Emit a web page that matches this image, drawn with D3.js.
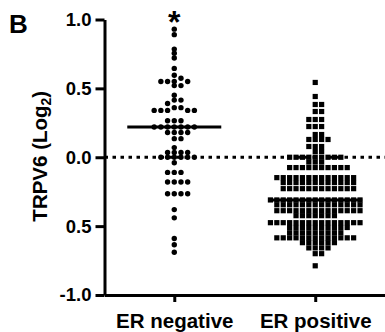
<!DOCTYPE html>
<html>
<head>
<meta charset="utf-8">
<script src="https://cdn.jsdelivr.net/npm/d3@7"></script>
<style>
  body { margin: 0; background: #fff; }
  text { font-family: "Liberation Sans", Arial, sans-serif; font-weight: bold; }
</style>
</head>
<body>
<div id="chart"></div>
<script>
var groups = ["ER negative", "ER positive"];

// TRPV6 (log2) per tumour
var erNegative = [0.93, 0.89, 0.785, 0.755, 0.72, 0.645, 0.595, 0.573,
  0.55, 0.55, 0.55, 0.55, 0.52, 0.52, 0.45, 0.415, 0.415, 0.39, 0.36, 0.36,
  0.34, 0.34, 0.34, 0.34, 0.34, 0.265, 0.265, 0.265,
  0.22, 0.22, 0.22, 0.22, 0.22, 0.22, 0.22,
  0.18, 0.18, 0.18, 0.18, 0.135, 0.135, 0.07, 0.035, 0.035, 0.035, 0.035,
  0, 0, 0, 0, 0, 0, -0.04, -0.11, -0.11, -0.11, -0.18, -0.18, -0.18, -0.18,
  -0.265, -0.265, -0.265, -0.265, -0.38, -0.44, -0.59, -0.635, -0.69];

var erPositive = [0.543, 0.441, 0.383, 0.383, 0.332, 0.332, 0.274, 0.274, 0.274,
  0.223, 0.223, 0.223, 0.165, 0.165, 0.129, 0.129, 0.129, 0.129,
  0.078, 0.078, 0.078, 0.041, 0.041,
  0, 0, 0, 0, 0, 0, 0, 0, 0,
  -0.035, -0.035, -0.035,
  -0.075, -0.075, -0.075, -0.075, -0.075, -0.075, -0.075, -0.075, -0.075, -0.075,
  -0.148, -0.148, -0.148, -0.148, -0.148, -0.148, -0.148, -0.148, -0.148, -0.148, -0.148, -0.148, -0.148,
  -0.184, -0.184, -0.184, -0.184, -0.184, -0.184, -0.184, -0.184, -0.184, -0.184, -0.184, -0.184,
  -0.228, -0.228, -0.228, -0.228, -0.228, -0.228, -0.228, -0.228, -0.228, -0.228, -0.228, -0.228,
  -0.31, -0.31, -0.31, -0.31, -0.31, -0.31, -0.31, -0.31, -0.31, -0.31, -0.31, -0.31, -0.31, -0.31, -0.31,
  -0.345, -0.345, -0.345, -0.345, -0.345, -0.345, -0.345, -0.345, -0.345, -0.345, -0.345, -0.345, -0.345, -0.345,
  -0.388, -0.388, -0.388, -0.388, -0.388, -0.388, -0.388, -0.388, -0.388, -0.388, -0.388, -0.388, -0.388, -0.388,
  -0.424, -0.424, -0.424, -0.424, -0.424, -0.424, -0.424,
  -0.475, -0.475, -0.475, -0.475, -0.475, -0.475, -0.475, -0.475, -0.475, -0.475, -0.475, -0.475, -0.475, -0.475, -0.475,
  -0.51, -0.51, -0.51, -0.51, -0.51, -0.51, -0.51, -0.51, -0.51, -0.51,
  -0.548, -0.548, -0.548, -0.548, -0.548, -0.548, -0.548, -0.548, -0.548,
  -0.585, -0.585, -0.585, -0.585, -0.585, -0.585, -0.585, -0.585, -0.585, -0.585, -0.585, -0.585, -0.585,
  -0.62, -0.62, -0.62, -0.62, -0.62, -0.62, -0.658, -0.658, -0.658, -0.658,
  -0.70, -0.70, -0.788];

var yTicks = [-1, -0.5, 0, 0.5, 1];
var yTickLabels = ["-1.0", "0.5", "0.0", "0.5", "1.0"];

var width = 385, height = 332;

var svg = d3.select("#chart").append("svg")
  .attr("width", width)
  .attr("height", height);

var x = d3.scalePoint()
  .domain(groups)
  .range([104.5, 385])
  .padding(0.495);

var y = d3.scaleLinear()
  .domain([-1, 1])
  .range([295, 19.5]);

// dotted line at zero, under the points
svg.append("line")
  .attr("x1", x.range()[0]).attr("x2", x.range()[1])
  .attr("y1", y(0)).attr("y2", y(0))
  .attr("stroke", "#000")
  .attr("stroke-width", 2.8)
  .attr("stroke-dasharray", "3.5,4.5");

// simple row swarm: each point goes to the nearest free slot beside the centre
function swarm(values, step, minDy) {
  var placed = [];
  values.slice().sort((a, b) => b - a).forEach(v => {
    var py = y(v);
    for (var i = 0; i < 60; i++) {
      var k = i == 0 ? 0 : (i % 2 ? (i + 1) / 2 : -i / 2);
      var px = k * step;
      var hit = placed.some(p => Math.abs(p.dx - px) < step - 0.2 && Math.abs(p.py - py) < minDy);
      if (!hit) { placed.push({v: v, dx: px, py: py}); break; }
    }
  });
  return placed;
}

var negPts = swarm(erNegative, 6.7, 4);
var posPts = swarm(erPositive, 6.4, 4.6);

svg.append("g").selectAll("circle")
  .data(negPts)
  .enter().append("circle")
    .attr("cx", d => x("ER negative") + d.dx)
    .attr("cy", d => d.py)
    .attr("r", 2.7)
    .attr("fill", "#000");

svg.append("g").selectAll("rect")
  .data(posPts)
  .enter().append("rect")
    .attr("x", d => x("ER positive") + d.dx - 2.6)
    .attr("y", d => d.py - 2.6)
    .attr("width", 5.2)
    .attr("height", 5.2)
    .attr("fill", "#000");

// medians
var medians = [
  {g: "ER negative", m: d3.median(erNegative)},
  {g: "ER positive", m: d3.median(erPositive)}
];
svg.append("g").selectAll("line")
  .data(medians)
  .enter().append("line")
    .attr("x1", d => x(d.g) - 47)
    .attr("x2", d => x(d.g) + 47)
    .attr("y1", d => y(d.m))
    .attr("y2", d => y(d.m))
    .attr("stroke", "#000")
    .attr("stroke-width", 3);

// y axis
var yAxis = svg.append("g")
  .attr("transform", "translate(104.5,0)")
  .call(d3.axisLeft(y)
    .tickValues(yTicks)
    .tickFormat((d, i) => yTickLabels[i])
    .tickSize(9)
    .tickSizeOuter(0)
    .tickPadding(4));
yAxis.select(".domain").attr("stroke-width", 3);
yAxis.selectAll(".tick line").attr("stroke-width", 3);
yAxis.selectAll("text")
  .attr("font-size", "18.5px")
  .attr("fill", "#000");

// x axis
var xAxis = svg.append("g")
  .attr("transform", "translate(0,295)")
  .call(d3.axisBottom(x).tickSize(7).tickSizeOuter(0).tickPadding(11));
xAxis.select(".domain").attr("stroke-width", 3);
xAxis.selectAll(".tick line").attr("stroke-width", 3);
xAxis.selectAll("text")
  .attr("font-size", "20.5px")
  .attr("fill", "#000");

// y label
var ylab = svg.append("text")
  .attr("transform", "translate(47," + (y(0) - 1) + ") rotate(-90)")
  .attr("text-anchor", "middle")
  .attr("font-size", "20.5px");
ylab.append("tspan").text("TRPV6 (Log");
ylab.append("tspan").attr("font-size", "14px").attr("dy", 4).text("2");
ylab.append("tspan").attr("dy", -4).text(")");

// significance star and panel letter
svg.append("text")
  .attr("x", x("ER negative"))
  .attr("y", 33)
  .attr("text-anchor", "middle")
  .attr("font-size", "32px")
  .text("*");

svg.append("text")
  .attr("x", 9)
  .attr("y", 33)
  .attr("font-size", "26px")
  .text("B");
</script>
</body>
</html>
